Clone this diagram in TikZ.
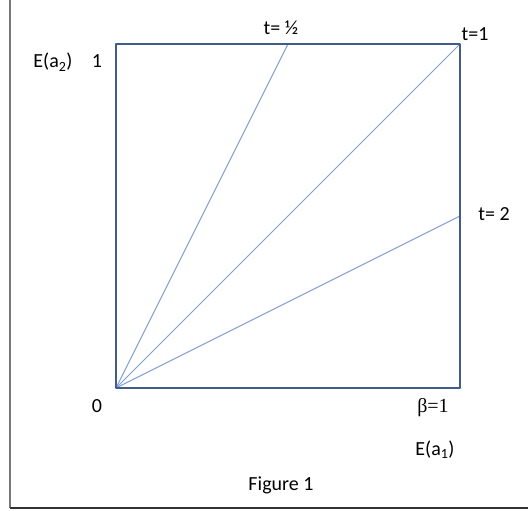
\documentclass[tikz,border=0pt]{standalone}
\usepackage{fontspec}
\setmainfont{Carlito}
\newfontfamily\serifnum{Liberation Serif}
\definecolor{boxblue}{RGB}{64,92,135}
\definecolor{rayblue}{RGB}{125,158,210}
\definecolor{framegray}{RGB}{120,120,120}
\begin{document}
\begin{tikzpicture}[x=1pt, y=-1pt, line join=round, font=\fontsize{20}{24}\selectfont,
		lbl/.style={inner sep=0pt, anchor=base}]
				\useasboundingbox (0,0) rectangle (528,511);
				% outer frame
				\coordinate (ftop) at (10,0);
				\coordinate (fcorner) at (10,508);
				\coordinate (fright) at (528,508);
				\draw[framegray, line width=1.5] (ftop) -- (fcorner);
				\draw[black!80, line width=1.5] (fcorner) -- (fright);
				% square
				\coordinate (O) at (116,388);
				\coordinate (A) at (460,388);
				\coordinate (B) at (460,44);
				\coordinate (C) at (116,44);
				\coordinate (H) at (288,44);
				\coordinate (T) at (460,216);
				\draw[rayblue, line width=0.9] (O) -- (H);
				\draw[rayblue, line width=0.9] (O) -- (B);
				\draw[rayblue, line width=0.9] (O) -- (T);
				\draw[boxblue, line width=2.8] (O) -- (A) -- (B) -- (C) -- cycle;
				% labels
				\node[lbl] (thalf) at (281,35) {t= ½};
				\node[lbl] (tone) at (475,41) {t=1};
				\node[lbl] (ttwo) at (494,220) {t= 2};
				\node[lbl] (ey) at (53,68) {E(a\textsubscript{2})};
				\node[lbl] (one) at (97,68) {1};
				\node[lbl] (zero) at (97,412) {0};
				\node[lbl] (beta) at (433,412) {\serifnum β=1};
				\node[lbl] (ex) at (435,455) {E(a\textsubscript{1})};
				\node[lbl] (fig) at (281,490) {Figure 1};
			\end{tikzpicture}
\end{document}
